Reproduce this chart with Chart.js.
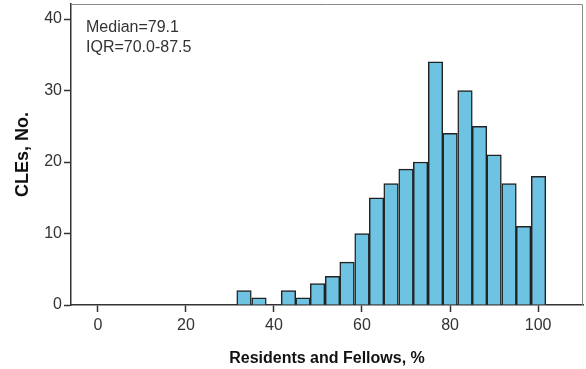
<!DOCTYPE html>
<html>
<head>
<meta charset="utf-8">
<script src="https://cdn.jsdelivr.net/npm/chart.js@4/dist/chart.umd.min.js"></script>
<style>
  html, body { margin: 0; padding: 0; background: #fff; }
  #wrap { width: 586px; height: 369px; }
</style>
</head>
<body>
<div id="wrap"><canvas id="hist"></canvas></div>
<script>
// bin midpoints (% residents and fellows) and counts per bin
const binCenters = [33.2, 36.6, 39.9, 43.3, 46.6, 49.9, 53.3, 56.6, 60.0, 63.3, 66.6,
                    70.0, 73.3, 76.7, 80.0, 83.4, 86.7, 90.0, 93.4, 96.7, 100.1];
const counts = [2, 1, 0, 2, 1, 3, 4, 6, 10, 15, 17, 19, 20, 34, 24, 30, 25, 21, 17, 11, 18];

const xTicks = [0, 20, 40, 60, 80, 100];
const yTicks = [0, 10, 20, 30, 40];
const notes = ['Median=79.1', 'IQR=70.0-87.5'];

const font = 'Liberation Sans, Arial, sans-serif';

// light frame on top/right plus the median / IQR note
const frameAndNote = {
    id: 'frameAndNote',
    afterDraw(chart) {
        const { ctx, chartArea: a } = chart;
        ctx.save();
        ctx.strokeStyle = '#8a8a8a';
        ctx.lineWidth = 1;
        ctx.beginPath();
        ctx.moveTo(a.left, a.top + 0.5);
        ctx.lineTo(a.right - 0.5, a.top + 0.5);
        ctx.lineTo(a.right - 0.5, a.bottom);
        ctx.stroke();

        ctx.fillStyle = '#333';
        ctx.font = '16px ' + font;
        ctx.textBaseline = 'alphabetic';
        notes.forEach((t, i) => ctx.fillText(t, a.left + 15, 32 + i * 19.5));
        ctx.restore();
    }
};

const histChart = new Chart(document.getElementById('hist'), {
    type: 'bar',
    data: {
        datasets: [{
            data: binCenters.map((x, i) => ({ x: x, y: counts[i] })),
            backgroundColor: '#6fc3e2',
            borderColor: '#222',
            borderWidth: 1.5,
            barPercentage: 1,
            categoryPercentage: 1
        }]
    },
    options: {
        responsive: true,
        maintainAspectRatio: false,
        animation: false,
        layout: { padding: { top: 4, right: 3, left: 0, bottom: 0 } },
        plugins: {
            legend: { display: false },
            tooltip: { enabled: false }
        },
        scales: {
            x: {
                type: 'linear',
                offset: false,
                min: -6.1,
                max: 110.2,
                afterBuildTicks: s => { s.ticks = xTicks.map(v => ({ value: v })); },
                afterFit: s => { s.height = 64; s.paddingLeft = 0; s.paddingRight = 0; },
                grid: { drawOnChartArea: false, offset: false, color: '#333', tickLength: 7, tickWidth: 1.5 },
                border: { color: '#333', width: 1.5 },
                ticks: { color: '#333', font: { family: font, size: 16 }, padding: 4, maxRotation: 0 },
                title: {
                    display: true,
                    text: 'Residents and Fellows, %',
                    color: '#111',
                    font: { family: font, size: 16, weight: 'bold' },
                    padding: { top: 0, bottom: 1 }
                }
            },
            y: {
                min: 0,
                max: 42.1,
                afterBuildTicks: s => { s.ticks = yTicks.map(v => ({ value: v })); },
                afterFit: s => { s.width = 71; s.paddingTop = 0; s.paddingBottom = 0; },
                grid: { drawOnChartArea: false, color: '#333', tickLength: 7, tickWidth: 1.5 },
                border: { color: '#333', width: 1.5 },
                ticks: { color: '#333', font: { family: font, size: 16 }, padding: 2 },
                title: {
                    display: true,
                    text: 'CLEs, No.',
                    color: '#111',
                    font: { family: font, size: 18, weight: 'bold' },
                    padding: { top: 12, bottom: 0 }
                }
            }
        }
    },
    plugins: [frameAndNote]
});
</script>
</body>
</html>
